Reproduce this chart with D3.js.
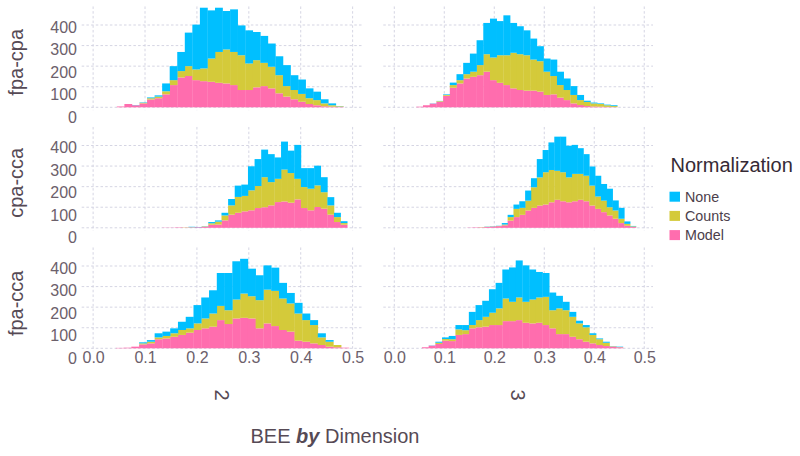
<!DOCTYPE html>
<html><head><meta charset="utf-8">
<script src="https://cdn.jsdelivr.net/npm/d3@7"></script>
<style>body{margin:0;background:#fff} svg{display:block}</style>
</head><body><svg id="chart" width="800" height="456"></svg>
<script>
const rowNames = ["fpa-cpa", "cpa-cca", "fpa-cca"];
const colNames = ["2", "3"];
const seriesNames = ["None", "Counts", "Model"];
const seriesColors = ["#00BFFF", "#D4CA3A", "#FF6DAE"];
const xTickValues = [0, 0.1, 0.2, 0.3, 0.4, 0.5];
const yTickValues = [0, 100, 200, 300, 400];
const binStarts = [[0.0457, 0.044], [0.1326, 0.145], [0.0437, 0.0553]];
const binWidths = [[0.01455, 0.0134], [0.01275, 0.01167], [0.01497, 0.0134]];

const model_fpacpa_2 = [4,16,10,19,38,44,63,108,145,152,132,127,124,119,116,108,84,84,97,103,92,68,52,39,27,16,10,5,3,2];
const counts_fpacpa_2 = [0,0,0,3,6,8,15,24,31,48,52,62,113,150,165,161,169,129,132,113,105,88,51,45,38,28,25,14,7,3];
const none_fpacpa_2 = [0,0,1,2,4,6,38,68,93,163,218,295,234,215,187,207,145,161,137,131,113,92,102,72,70,48,41,20,9,1];

const model_fpacpa_3 = [3,10,18,27,56,95,116,140,148,156,173,132,119,108,92,84,81,81,76,60,63,47,35,19,11,6,4,3,2,1];
const counts_fpacpa_3 = [0,0,0,3,4,13,16,21,25,49,85,110,134,145,173,174,172,151,148,113,89,61,49,41,24,20,15,13,8,5];
const none_fpacpa_3 = [0,0,1,1,3,12,29,55,88,121,152,189,166,194,145,136,121,102,73,64,80,65,56,43,25,6,4,3,3,4];

const model_cpacca_2 = [1,1,2,1,2,3,5,15,16,36,64,73,80,85,96,100,109,125,128,122,138,96,85,101,93,64,28,15];
const counts_cpacca_2 = [0,0,0,1,1,0,2,7,14,24,45,77,75,97,107,146,113,113,155,144,100,102,105,105,80,45,24,8];
const none_cpacca_2 = [0,0,0,0,2,1,1,6,6,13,31,55,55,117,131,134,136,104,136,109,165,92,100,96,73,40,21,9];

const model_cpacca_3 = [1,2,2,4,6,8,12,35,52,63,84,97,108,113,124,136,129,124,129,136,129,108,92,76,60,44,23,10,4];
const counts_cpacca_3 = [0,0,1,1,1,1,4,17,40,34,48,100,137,157,157,141,141,121,133,126,124,97,60,56,40,40,21,9,3];
const none_cpacca_3 = [0,0,0,1,1,1,7,11,21,32,49,44,89,108,134,166,173,154,141,125,105,93,101,81,90,49,53,12,2];

const model_fpacca_2 = [2,3,8,19,24,44,48,56,65,76,89,97,105,137,118,145,148,145,97,121,108,89,81,37,32,24,16,8,5,3];
const counts_fpacca_2 = [0,0,0,5,8,9,12,17,24,21,32,48,64,69,67,92,118,108,137,164,171,153,137,132,105,89,37,24,11,0];
const none_fpacca_2 = [0,0,0,5,8,20,21,24,40,56,89,102,113,160,181,186,169,134,121,118,113,76,51,52,32,24,20,8,0,0];

const model_fpacca_3 = [5,13,21,37,35,65,69,97,102,105,113,113,132,132,137,124,121,124,113,97,69,69,56,44,32,24,16,11,8,5];
const counts_fpacca_3 = [0,0,6,8,9,27,19,16,35,48,60,81,110,94,110,102,116,123,137,88,125,116,97,77,70,41,28,16,2,1];
const none_fpacca_3 = [0,1,5,8,16,21,25,64,73,78,114,124,141,167,180,177,146,124,116,86,61,41,24,13,11,8,4,5,1,2];

const panelSeries = [
  [[model_fpacpa_2, counts_fpacpa_2, none_fpacpa_2], [model_fpacpa_3, counts_fpacpa_3, none_fpacpa_3]],
  [[model_cpacca_2, counts_cpacca_2, none_cpacca_2], [model_cpacca_3, counts_cpacca_3, none_cpacca_3]],
  [[model_fpacca_2, counts_fpacca_2, none_fpacca_2], [model_fpacca_3, counts_fpacca_3, none_fpacca_3]]
];

// ---- layout ----
const FONT = "'Liberation Sans', Arial, Helvetica, sans-serif";
const svg = d3.select("#chart").style("font-family", FONT);
const colRanges = [[81.7, 361.7], [383.3, 653]];
const xDomain = [-0.022, 0.5175];
const rowBase0 = 107.3, rowStep = 120.5, unitsPx = 82.3; // 400 units
const gridColor = "#D0D0E0";
const colorOf = d3.scaleOrdinal().domain(seriesNames).range(seriesColors);

rowNames.forEach((rn, r) => {
  const base = rowBase0 + r * rowStep;
  const y = d3.scaleLinear().domain([0, 400]).range([base, base - unitsPx]);
  const yLab = d3.scaleLinear().domain([0, 400]).range([base + 10, base - 80]);

  colNames.forEach((cn, c) => {
    const x = d3.scaleLinear().domain(xDomain).range(colRanges[c]);
    const g = svg.append("g");
    // grid
    g.selectAll("line.h").data(yTickValues).join("line")
      .attr("x1", colRanges[c][0]).attr("x2", colRanges[c][1])
      .attr("y1", d => y(d)).attr("y2", d => y(d))
      .attr("stroke", gridColor).attr("stroke-width", 0.9).attr("stroke-dasharray", "2.5,2.2");
    g.selectAll("line.v").data(xTickValues).join("line")
      .attr("x1", d => x(d)).attr("x2", d => x(d))
      .attr("y1", y(490)).attr("y2", y(-14))
      .attr("stroke", gridColor).attr("stroke-width", 0.9).attr("stroke-dasharray", "2.5,2.2");

    const [m, cnt, nn] = panelSeries[r][c];
    const start = binStarts[r][c], w = binWidths[r][c];
    const rows = m.map((v, i) => ({ lo: start + i * w, hi: start + (i + 1) * w, Model: v, Counts: cnt[i], None: nn[i] }));
    const stack = d3.stack().keys(["Model", "Counts", "None"])(rows);
    stack.forEach(layer => {
      g.append("g").attr("fill", colorOf(layer.key))
        .selectAll("rect").data(layer).join("rect")
        .attr("x", d => x(d.data.lo))
        .attr("width", d => x(d.data.hi) - x(d.data.lo) + 0.3)
        .attr("y", d => y(d[1]))
        .attr("height", d => Math.max(0, y(d[0]) - y(d[1])));
    });
  });

  // y tick labels
  const ax = svg.append("g").attr("transform", "translate(77,0)")
    .call(d3.axisLeft(yLab).tickValues(yTickValues).tickSize(0).tickPadding(0));
  ax.select(".domain").remove();
  ax.selectAll("text").attr("font-size", 16).attr("fill", "#6c606b").attr("font-family", FONT);

  // row facet label
  svg.append("text")
    .attr("transform", `translate(23,${base - 50 + 5}) rotate(-90)`)
    .attr("text-anchor", "middle").attr("font-size", 20).attr("fill", "#564a55")
    .text(rn);
});

// x tick labels
colNames.forEach((cn, c) => {
  const x = d3.scaleLinear().domain(xDomain).range(colRanges[c]);
  const ax = svg.append("g").attr("transform", "translate(0,352)")
    .call(d3.axisBottom(x).tickValues(xTickValues).tickFormat(d3.format(".1f")).tickSize(0).tickPadding(0));
  ax.select(".domain").remove();
  ax.selectAll("text").attr("font-size", 16).attr("fill", "#6c606b").attr("font-family", FONT);
  // column facet label
  svg.append("text")
    .attr("transform", `translate(${(colRanges[c][0] + colRanges[c][1]) / 2},395) rotate(90)`)
    .attr("text-anchor", "middle").attr("dy", "0.35em").attr("font-size", 20).attr("fill", "#564a55")
    .text(cn);
});

// axis title
const t = svg.append("text").attr("x", 335).attr("y", 443).attr("text-anchor", "middle")
  .attr("font-size", 20).attr("fill", "#564a55");
t.append("tspan").text("BEE ");
t.append("tspan").attr("font-weight", "bold").attr("font-style", "italic").text("by");
t.append("tspan").text(" Dimension");

// legend
const lg = svg.append("g");
lg.append("text").attr("x", 670.5).attr("y", 171.5).attr("font-size", 20).attr("fill", "#362a35").text("Normalization");
seriesNames.forEach((s, i) => {
  lg.append("rect").attr("x", 669.5).attr("y", 191.7 + i * 19.2).attr("width", 10.5).attr("height", 10)
    .attr("fill", colorOf(s));
  lg.append("text").attr("x", 685).attr("y", 201.5 + i * 19.2).attr("font-size", 14.3).attr("fill", "#4c404b").text(s);
});
</script></body></html>
